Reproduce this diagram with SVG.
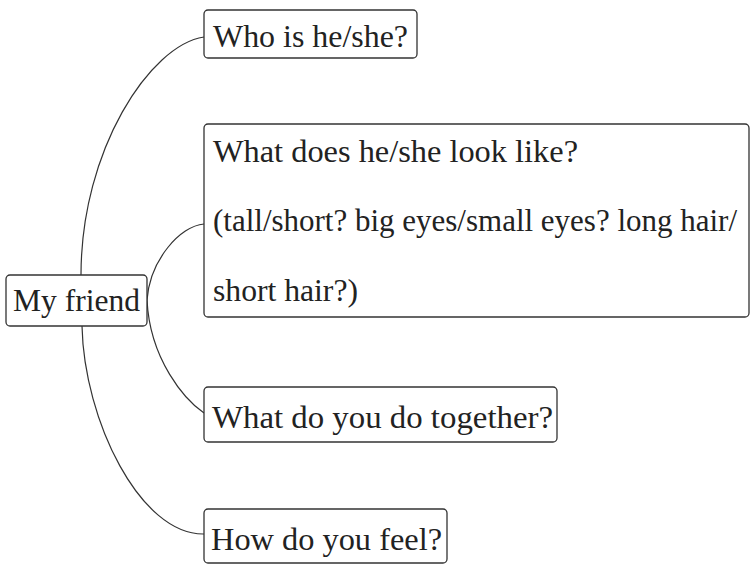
<svg xmlns="http://www.w3.org/2000/svg" width="755" height="571" viewBox="0 0 755 571">
<style>
.box{fill:#fff;stroke:#333;stroke-width:1.3}
.t{font-family:"Liberation Serif","Times New Roman",serif;font-size:32px;fill:#222}
.c{fill:none;stroke:#333;stroke-width:1.2}
</style>
<rect width="755" height="571" fill="#fff"/>
<g id="connectors">
<path class="c" d="M81,275 C81,150 150,45 204,37"/>
<path class="c" d="M147,300 C150,260 180,226 204,224"/>
<path class="c" d="M147,300 C150,360 185,400 204,413"/>
<path class="c" d="M82,326 C84,420 140,535 204,534"/>
</g>
<g id="my-friend">
<rect class="box" x="6" y="275" width="141" height="51" rx="4"/>
<text class="t" x="13" y="311" textLength="127" lengthAdjust="spacingAndGlyphs">My friend</text>
</g>
<g id="who">
<rect class="box" x="204" y="10" width="213" height="48" rx="4"/>
<text class="t" x="213" y="47" textLength="195" lengthAdjust="spacingAndGlyphs">Who is he/she?</text>
</g>
<g id="look">
<rect class="box" x="204" y="124" width="545" height="193" rx="4"/>
<text class="t" x="213" y="162" textLength="365" lengthAdjust="spacingAndGlyphs">What does he/she look like?</text>
<text class="t" x="213" y="231" textLength="524" lengthAdjust="spacingAndGlyphs">(tall/short? big eyes/small eyes? long hair/</text>
<text class="t" x="213" y="301" textLength="145" lengthAdjust="spacingAndGlyphs">short hair?)</text>
</g>
<g id="together">
<rect class="box" x="204" y="387" width="353" height="55" rx="4"/>
<text class="t" x="212" y="428" textLength="341" lengthAdjust="spacingAndGlyphs">What do you do together?</text>
</g>
<g id="feel">
<rect class="box" x="204" y="509" width="243" height="54" rx="4"/>
<text class="t" x="211" y="550" textLength="231" lengthAdjust="spacingAndGlyphs">How do you feel?</text>
</g>
</svg>
